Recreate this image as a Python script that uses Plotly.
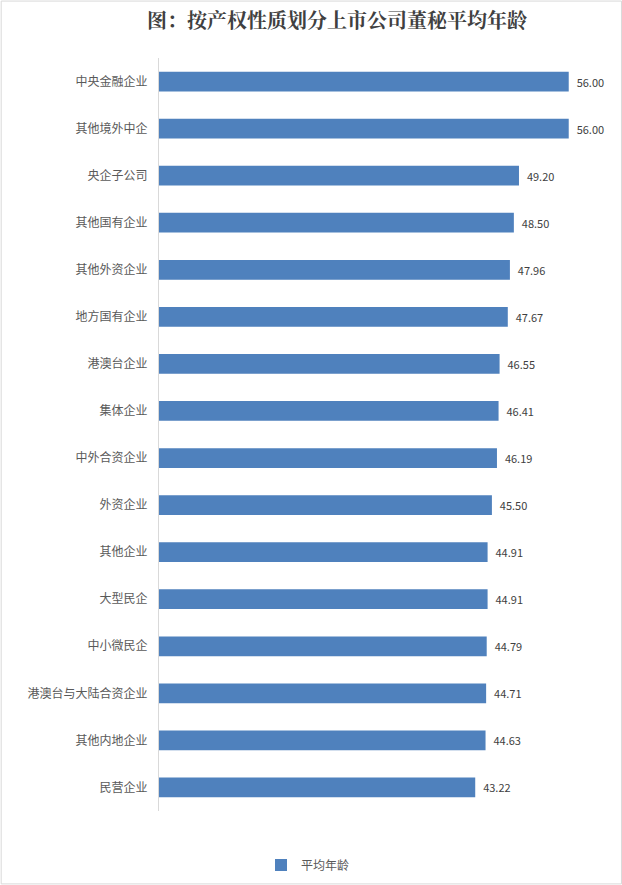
import plotly.graph_objects as go

categories = ["中央金融企业", "其他境外中企", "央企子公司", "其他国有企业", "其他外资企业",
              "地方国有企业", "港澳台企业", "集体企业", "中外合资企业", "外资企业",
              "其他企业", "大型民企", "中小微民企", "港澳台与大陆合资企业", "其他内地企业", "民营企业"]
values = [56.00, 56.00, 49.20, 48.50, 47.96, 47.67, 46.55, 46.41, 46.19, 45.50,
          44.91, 44.91, 44.79, 44.71, 44.63, 43.22]
series_name = "平均年龄"
title_text = "图：按产权性质划分上市公司董秘平均年龄"

W, H = 622, 885
L, R, T, B = 158.5, 24, 57.5, 73.5
pw = W - L - R
ph = H - T - B

FONT = "Noto Sans CJK SC"
TITLE_FONT = "Noto Serif CJK SC, Noto Sans CJK SC"

fig = go.Figure()
fig.add_trace(go.Bar(
    y=categories, x=values, orientation="h", name=series_name,
    marker=dict(color="#4f81bd", line=dict(width=0)),
    text=["\u00a0\u00a0" + f"{v:.2f}" for v in values],
    textposition="outside", cliponaxis=False,
    textfont=dict(family=FONT, size=11, color="#404040"),
    showlegend=True,
))

fig.update_layout(
    width=W, height=H,
    margin=dict(l=L, r=R, t=T, b=B, pad=0),
    paper_bgcolor="white", plot_bgcolor="white",
    bargap=0.58,
    title=dict(text=title_text, x=337 / W, xref="container", xanchor="center",
               y=1 - 21 / H, yref="container", yanchor="middle",
               font=dict(family=TITLE_FONT, size=20, color="#404040", weight="bold")),
    xaxis=dict(range=[0, 60], showgrid=False, zeroline=False, showline=False,
               showticklabels=False, ticks=""),
    yaxis=dict(autorange="reversed", showgrid=False, zeroline=False,
               showline=True, linecolor="#d9d9d9", linewidth=1, ticks="",
               ticklabelstandoff=8,
               tickfont=dict(family=FONT, size=12, color="#595959")),
    legend=dict(orientation="h", xref="container", yref="container",
                x=308 / W, xanchor="center", y=1 - 865 / H, yanchor="middle",
                font=dict(family=FONT, size=12, color="#595959"),
                itemwidth=30),
    showlegend=True,
)

# outer chart border
fig.add_shape(type="rect", xref="paper", yref="paper",
              x0=(-L + 0.5) / pw, x1=(pw + R - 0.5) / pw,
              y0=(-B + 0.5) / ph, y1=(ph + T - 0.5) / ph,
              line=dict(color="#d9d9d9", width=1), fillcolor="rgba(0,0,0,0)", layer="below")

fig.write_html("out.html", config={"displayModeBar": False},
               post_script="document.body.style.margin='0';")
